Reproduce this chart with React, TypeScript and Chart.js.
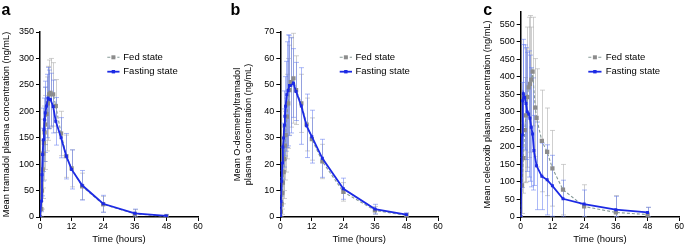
import React, { useEffect, useRef } from "react";
import { Chart, registerables } from "chart.js";

Chart.register(...registerables);

// ---------- Panel a: tramadol ----------
const tramTimes = [0, 0.5, 0.75, 1, 1.25, 1.5, 1.75, 2, 2.5, 3, 3.5, 4, 5, 6, 8, 10, 12, 16, 24, 36, 48];
const tramFasting = [0, 30, 80, 118, 146, 165, 184, 197, 210, 225, 223, 222, 209, 181, 150, 115, 90, 60, 25, 7, 2];
const tramFastingSD = [0, 20, 40, 50, 60, 60, 62, 60, 60, 58, 55, 50, 50, 45, 38, 43, 37, 28, 16, 8, 3];
const tramFed = [0, 15, 50, 90, 120, 140, 160, 175, 195, 215, 232, 235, 232, 210, 158, 115, 92, 58, 24, 6, 1];
const tramFedSD = [0, 15, 35, 55, 65, 70, 70, 70, 70, 70, 65, 65, 60, 50, 42, 40, 35, 25, 15, 8, 3];

// ---------- Panel b: O-desmethyltramadol ----------
const odtTimes = [0, 0.25, 0.5, 0.75, 1, 1.25, 1.5, 1.75, 2, 2.5, 3, 3.5, 4, 5, 6, 8, 10, 12, 16, 24, 36, 48];
const odtFasting = [0, 5.9, 13.5, 20.4, 26.5, 29.9, 34.7, 38.1, 41.9, 46.3, 47.9, 49.8, 49.8, 50.7, 47.5, 42, 34.5, 30.4, 22.2, 10.7, 3, 0.9];
const odtFastingSD = [0, 2, 4, 6, 9, 11, 13, 15, 17, 20, 21, 19, 18, 13, 11, 14.5, 12, 10, 7.2, 4, 1.8, 0.7];
const odtFed = [0, 2, 5, 9, 13, 17, 22, 27, 31, 38, 43, 48, 51, 52.5, 48, 43, 35, 29.5, 21, 9.5, 2.5, 0.6];
const odtFedSD = [0, 2, 4, 6, 8, 10, 12, 13, 14, 16, 17, 17, 17, 17, 13, 11, 10, 8, 6.5, 3.5, 1.5, 0.6];

// ---------- Panel c: celecoxib ----------
const celFastTimes = [0, 0.5, 0.75, 1, 1.5, 2, 2.5, 3, 3.5, 4, 4.5, 5, 6, 8, 10, 12, 16, 24, 36, 48];
const celFasting = [0, 234, 332, 352, 341, 324, 300, 294, 282, 256, 237, 190, 146, 116, 106, 89, 52, 37, 21, 13];
const celFastingSD = [0, 150, 160, 155, 150, 160, 170, 180, 180, 170, 160, 100, 125, 95, 100, 87, 53, 40, 38, 15];
const celFedTimes = [0, 0.5, 1, 1.5, 2, 2.5, 3, 3.5, 4, 4.5, 5.5, 6, 8, 10, 12, 16, 24, 36, 48];
const celFed = [0, 90, 168, 248, 290, 342, 370, 380, 392, 415, 312, 283, 217, 186, 139, 78, 30, 13, 7];
const celFedSD = [0, 80, 100, 150, 190, 200, 200, 195, 150, 155, 140, 140, 145, 125, 108, 72, 62, 48, 20];

// ---------- Axis ticks / labels ----------
const xTickStep = 12;
const xMax = 60;
const legendLabels = ["Fed state", "Fasting state"];
const panelLetters = ["a", "b", "c"];
const yTitles: (string | string[])[] = [
  "Mean tramadol plasma concentration (ng/mL)",
  ["Mean O-desmethyltramadol", "plasma concentration (ng/mL)"],
  "Mean celecoxib plasma concentration (ng/mL)",
];
const yMaxes = [350, 70, 585];
const ySteps = [50, 10, 50];
const xTitle = "Time (hours)";

const FONT = "'Liberation Sans', Arial, Helvetica, sans-serif";
const BLUE = "rgb(28,42,228)";
const BLUE_ERR = "rgba(90,115,240,0.5)";
const GRAY_LINE = "#869a98";
const GRAY_PT = "#8c8c8c";
const GRAY_ERR = "rgba(175,175,175,0.6)";
const TEXT = "#000";
const H = 249;

const errorBars = {
  id: "errorBars",
  beforeDatasetsDraw(chart: any) {
    const { ctx, chartArea, scales } = chart;
    const xs = scales.x;
    const ys = scales.y;
    ctx.save();
    ctx.beginPath();
    ctx.rect(chartArea.left, chartArea.top, chartArea.right - chartArea.left, chartArea.bottom - chartArea.top);
    ctx.clip();
    const order = [...chart.data.datasets].reverse();
    order.forEach((ds: any) => {
      ctx.strokeStyle = ds.errColor;
      ctx.lineWidth = 1;
      ds.data.forEach((p: any, i: number) => {
        const s = ds.sd[i];
        if (!s) return;
        const px = Math.round(xs.getPixelForValue(p.x)) + 0.5;
        const t = ys.getPixelForValue(p.y + s);
        const b = ys.getPixelForValue(Math.max(0, p.y - s));
        ctx.beginPath();
        ctx.moveTo(px, t);
        ctx.lineTo(px, b);
        ctx.moveTo(px - 2.5, t);
        ctx.lineTo(px + 2.5, t);
        ctx.moveTo(px - 2.5, b);
        ctx.lineTo(px + 2.5, b);
        ctx.stroke();
      });
    });
    ctx.restore();
  },
};

const decorations = {
  id: "decorations",
  afterDraw(chart: any, _args: any, opts: any) {
    const { ctx } = chart;
    ctx.save();
    ctx.fillStyle = "#000";
    ctx.font = `bold 16px ${FONT}`;
    ctx.textBaseline = "alphabetic";
    ctx.textAlign = "left";
    ctx.fillText(opts.letter, opts.letterX, 15);
    const rows = [
      { label: legendLabels[0], y: 57.3, color: GRAY_LINE, pt: GRAY_PT, dash: [3, 2], size: 4, w: 1.1 },
      { label: legendLabels[1], y: 71.7, color: BLUE, pt: BLUE, dash: [], size: 3.4, w: 1.8 },
    ];
    rows.forEach((r) => {
      ctx.strokeStyle = r.color;
      ctx.lineWidth = r.w;
      ctx.setLineDash(r.dash);
      ctx.beginPath();
      ctx.moveTo(opts.lx0, r.y);
      ctx.lineTo(opts.lx1, r.y);
      ctx.stroke();
      ctx.setLineDash([]);
      ctx.fillStyle = r.pt;
      const cx = (opts.lx0 + opts.lx1) / 2;
      ctx.fillRect(cx - r.size / 2, r.y - r.size / 2, r.size, r.size);
      ctx.fillStyle = TEXT;
      ctx.font = `9.5px ${FONT}`;
      ctx.textBaseline = "middle";
      ctx.fillText(r.label, opts.tx, r.y);
    });
    ctx.restore();
  },
};

type Panel = {
  idx: number;
  width: number;
  left: number;
  right: number;
  top: number;
  bottom: number;
  fastT: number[];
  fastY: number[];
  fastSD: number[];
  fedT: number[];
  fedY: number[];
  fedSD: number[];
  titlePad: number;
  letterX: number;
  lx0: number;
  lx1: number;
  tx: number;
  pageLeft: number;
};

const panels: Panel[] = [
  {
    idx: 0, width: 228, pageLeft: 0, left: 40, right: 198, top: 32, bottom: 217,
    fastT: tramTimes, fastY: tramFasting, fastSD: tramFastingSD,
    fedT: tramTimes, fedY: tramFed, fedSD: tramFedSD,
    titlePad: 0.5, letterX: 1.5, lx0: 107.3, lx1: 119.5, tx: 123.3,
  },
  {
    idx: 1, width: 227, pageLeft: 228, left: 52.3, right: 210, top: 32, bottom: 217,
    fastT: odtTimes, fastY: odtFasting, fastSD: odtFastingSD,
    fedT: odtTimes, fedY: odtFed, fedSD: odtFedSD,
    titlePad: 4, letterX: 2.5, lx0: 111.7, lx1: 124, tx: 127.5,
  },
  {
    idx: 2, width: 230, pageLeft: 455, left: 65.7, right: 225, top: 12, bottom: 217,
    fastT: celFastTimes, fastY: celFasting, fastSD: celFastingSD,
    fedT: celFedTimes, fedY: celFed, fedSD: celFedSD,
    titlePad: 27, letterX: 28.3, lx0: 133.3, lx1: 146.5, tx: 150.7,
  },
];

function makeConfig(p: Panel): any {
  return {
    type: "line",
    data: {
      datasets: [
        {
          label: legendLabels[1],
          data: p.fastT.map((t, i) => ({ x: t, y: p.fastY[i] })),
          sd: p.fastSD,
          errColor: BLUE_ERR,
          borderColor: BLUE,
          backgroundColor: BLUE,
          borderWidth: 1.8,
          pointStyle: "rect",
          pointRadius: 2.1,
          pointBorderWidth: 0,
          pointBackgroundColor: BLUE,
          tension: 0,
        },
        {
          label: legendLabels[0],
          data: p.fedT.map((t, i) => ({ x: t, y: p.fedY[i] })),
          sd: p.fedSD,
          errColor: GRAY_ERR,
          borderColor: GRAY_LINE,
          backgroundColor: GRAY_PT,
          borderWidth: 1.1,
          borderDash: [3, 2],
          pointStyle: "rect",
          pointRadius: 3,
          pointBorderWidth: 0,
          pointBackgroundColor: GRAY_PT,
          tension: 0,
        },
      ],
    },
    options: {
      animation: false,
      responsive: false,
      maintainAspectRatio: false,
      events: [],
      layout: { padding: { left: 0, top: p.top, right: p.width - p.right, bottom: 0 } },
      plugins: {
        legend: { display: false },
        tooltip: { enabled: false },
        decorations: { letter: panelLetters[p.idx], letterX: p.letterX, lx0: p.lx0, lx1: p.lx1, tx: p.tx },
      },
      scales: {
        x: {
          type: "linear",
          min: 0,
          max: xMax,
          afterFit: (s: any) => {
            s.height = H - p.bottom;
          },
          ticks: { stepSize: xTickStep, color: TEXT, font: { family: FONT, size: 8.5 }, padding: 1, maxRotation: 0 },
          grid: { display: true, drawOnChartArea: false, drawTicks: true, tickLength: 4, color: "#000", lineWidth: 1 },
          border: { display: true, color: "#000", width: 1.5 },
          title: {
            display: true,
            text: xTitle,
            color: TEXT,
            font: { family: FONT, size: 9.5 },
            padding: { top: 0, bottom: 4 },
          },
        },
        y: {
          type: "linear",
          min: 0,
          max: yMaxes[p.idx],
          afterFit: (s: any) => {
            s.width = p.left;
          },
          ticks: { stepSize: ySteps[p.idx], includeBounds: false, color: TEXT, font: { family: FONT, size: 9 }, padding: 2 },
          grid: { display: true, drawOnChartArea: false, drawTicks: true, tickLength: 4, color: "#000", lineWidth: 1 },
          border: { display: true, color: "#000", width: 1.5 },
          title: {
            display: true,
            text: yTitles[p.idx],
            color: TEXT,
            font: { family: FONT, size: 9.2 },
            padding: { top: p.titlePad, bottom: 0 },
          },
        },
      },
    },
    plugins: [errorBars, decorations],
  };
}

function PanelChart({ p }: { p: Panel }) {
  const ref = useRef<HTMLCanvasElement | null>(null);
  useEffect(() => {
    if (!ref.current) return;
    const chart = new Chart(ref.current, makeConfig(p));
    return () => chart.destroy();
  }, [p]);
  return (
    <canvas
      ref={ref}
      width={p.width}
      height={H}
      style={{ position: "absolute", left: p.pageLeft, top: 0, width: p.width, height: H }}
    />
  );
}

export default function App() {
  return (
    <div style={{ position: "absolute", left: 0, top: 0, width: 685, height: H, background: "#fff" }}>
      {panels.map((p) => (
        <PanelChart key={p.idx} p={p} />
      ))}
    </div>
  );
}
